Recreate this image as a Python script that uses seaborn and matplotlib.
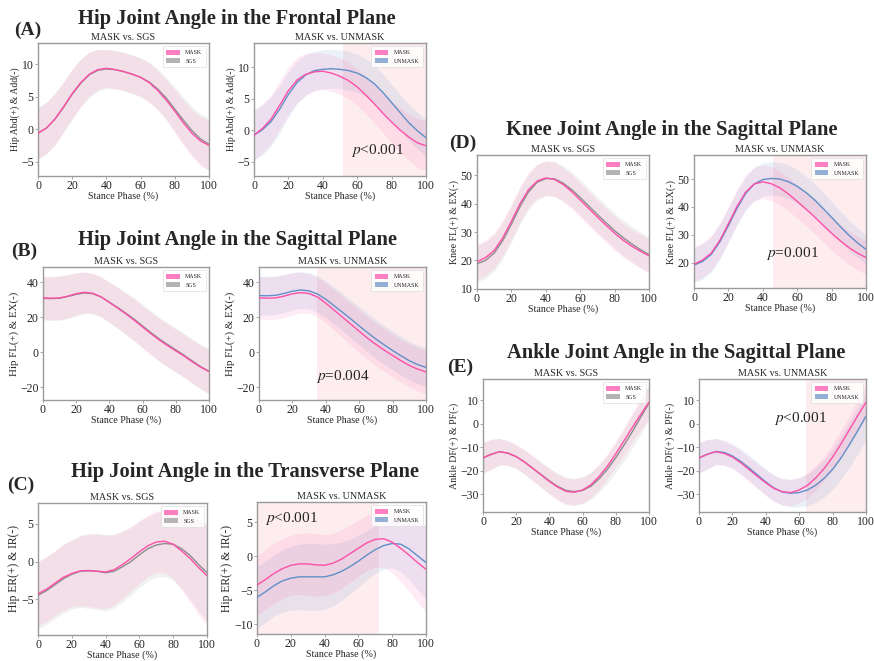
import numpy as np
import pandas as pd
import matplotlib
matplotlib.use("Agg")
import matplotlib.pyplot as plt
from matplotlib.patches import Patch
import seaborn as sns

# ---------------- data ----------------
stance = [0, 5, 10, 15, 20, 25, 30, 35, 40, 45, 50, 55, 60, 65, 70, 75, 80, 85, 90, 95, 100]
x_ticks = [0, 20, 40, 60, 80, 100]

# (A) Hip frontal
A_mask_l = [-0.6, 0.2, 1.6, 3.5, 5.5, 7.2, 8.5, 9.2, 9.4, 9.2, 8.9, 8.5, 8.0, 7.2, 6.0, 4.5, 2.8, 1.0, -0.6, -1.8, -2.5]
A_sgs = [-0.6, 0.2, 1.6, 3.4, 5.4, 7.1, 8.4, 9.1, 9.3, 9.2, 8.9, 8.5, 8.0, 7.3, 6.2, 4.8, 3.1, 1.4, -0.2, -1.5, -2.3]
A_mask_l_sd = [3.9, 3.9, 3.9, 3.8, 3.8, 3.6, 3.4, 3.1, 2.9, 2.9, 2.9, 2.9, 2.9, 3.0, 3.0, 3.1, 3.3, 3.5, 3.6, 3.8, 3.9]
A_sgs_sd = [4.0, 4.0, 4.0, 3.9, 3.9, 3.7, 3.5, 3.2, 3.0, 3.0, 3.0, 3.0, 3.0, 3.1, 3.1, 3.2, 3.4, 3.6, 3.7, 3.9, 4.0]
A_mask_r = [-0.8, 0.3, 1.8, 4.0, 6.3, 8.0, 8.9, 9.3, 9.4, 9.1, 8.6, 7.9, 6.9, 5.6, 4.2, 2.7, 1.3, 0.0, -1.1, -2.0, -2.5]
A_unmask = [-0.8, 0.1, 1.4, 3.4, 5.7, 7.6, 8.8, 9.5, 9.7, 9.8, 9.7, 9.5, 9.1, 8.4, 7.4, 6.0, 4.4, 2.8, 1.2, -0.1, -1.2]
A_mask_r_sd = [3.9, 3.9, 3.9, 3.8, 3.8, 3.6, 3.4, 3.1, 2.9, 2.9, 2.9, 2.9, 2.9, 3.0, 3.0, 3.1, 3.3, 3.5, 3.7, 3.9, 4.0]
A_unmask_sd = [4.0, 4.0, 3.9, 3.8, 3.6, 3.4, 3.2, 3.1, 3.1, 3.1, 3.1, 3.1, 3.0, 3.0, 3.0, 3.0, 2.9, 2.9, 2.9, 2.9, 2.9]

# (B) Hip sagittal
B_mask_l = [31.0, 30.8, 31.0, 32.0, 33.4, 34.2, 33.6, 31.6, 28.4, 25.2, 21.8, 18.2, 14.4, 10.6, 7.0, 3.8, 0.8, -2.2, -5.5, -8.5, -11.0]
B_sgs = [30.7, 30.6, 30.8, 31.8, 33.0, 33.8, 33.4, 31.5, 28.5, 25.5, 22.2, 18.8, 15.0, 11.2, 7.6, 4.4, 1.4, -1.7, -5.0, -8.2, -10.8]
B_mask_l_sd = [12.0, 12.2, 12.3, 12.2, 12.0, 11.6, 11.3, 11.2, 11.3, 11.5, 11.7, 11.9, 12.0, 12.1, 12.2, 12.2, 12.2, 12.2, 12.3, 12.4, 12.5]
B_sgs_sd = [12.3, 12.5, 12.6, 12.5, 12.3, 11.9, 11.6, 11.5, 11.6, 11.8, 12.0, 12.2, 12.3, 12.4, 12.5, 12.5, 12.5, 12.5, 12.6, 12.7, 12.8]
B_mask_r = [31.0, 30.8, 31.0, 32.0, 33.3, 34.0, 33.5, 31.5, 28.0, 24.0, 20.0, 16.0, 12.0, 8.0, 4.5, 1.2, -1.8, -4.8, -7.5, -9.6, -11.2]
B_unmask = [32.3, 32.2, 32.5, 33.5, 34.8, 35.5, 35.0, 33.2, 30.2, 26.5, 22.8, 19.0, 15.0, 11.2, 7.5, 4.2, 1.0, -2.0, -4.8, -7.0, -8.6]
B_mask_r_sd = [12.0, 12.2, 12.3, 12.2, 12.0, 11.6, 11.3, 11.2, 11.3, 11.5, 11.7, 11.9, 12.0, 12.1, 12.2, 12.2, 12.2, 12.2, 12.3, 12.4, 12.5]
B_unmask_sd = [11.0, 11.0, 10.9, 10.8, 10.6, 10.5, 10.4, 10.4, 10.5, 10.6, 10.7, 10.8, 10.9, 11.0, 11.0, 11.0, 11.0, 11.0, 11.0, 11.0, 11.0]

# (C) Hip transverse
C_mask_l = [-4.3, -3.7, -2.9, -2.1, -1.6, -1.25, -1.2, -1.3, -1.4, -1.1, -0.4, 0.4, 1.3, 2.1, 2.6, 2.7, 2.3, 1.4, 0.4, -0.8, -1.9]
C_sgs = [-4.5, -3.9, -3.1, -2.3, -1.7, -1.3, -1.25, -1.3, -1.5, -1.3, -0.7, 0.0, 0.9, 1.7, 2.2, 2.4, 2.3, 1.7, 0.8, -0.4, -1.5]
C_mask_l_sd = [4.3, 4.3, 4.3, 4.4, 4.4, 4.6, 4.8, 4.9, 4.9, 4.7, 4.5, 4.3, 4.2, 4.1, 4.1, 4.2, 4.6, 5.2, 5.8, 6.3, 6.6]
C_sgs_sd = [4.5, 4.5, 4.5, 4.6, 4.6, 4.8, 5.0, 5.1, 5.1, 4.9, 4.7, 4.5, 4.4, 4.3, 4.3, 4.4, 4.8, 5.3, 5.8, 6.2, 6.4]
C_mask_r = [-4.2, -3.4, -2.5, -1.8, -1.3, -1.1, -1.1, -1.25, -1.3, -1.0, -0.4, 0.4, 1.2, 2.0, 2.5, 2.6, 2.1, 1.2, 0.2, -0.9, -1.9]
C_unmask = [-6.0, -5.2, -4.3, -3.6, -3.2, -3.0, -3.0, -3.0, -3.0, -2.7, -2.2, -1.5, -0.7, 0.2, 1.0, 1.6, 1.9, 1.8, 1.1, 0.1, -0.9]
C_mask_r_sd = [4.4, 4.4, 4.4, 4.4, 4.4, 4.5, 4.6, 4.6, 4.5, 4.4, 4.3, 4.2, 4.1, 4.1, 4.1, 4.2, 4.5, 4.9, 5.3, 5.8, 6.3]
C_unmask_sd = [4.5, 4.5, 4.5, 4.6, 4.7, 4.8, 4.9, 4.9, 4.8, 4.6, 4.3, 4.0, 3.8, 3.6, 3.5, 3.5, 3.6, 4.0, 4.5, 5.0, 5.4]

# (D) Knee sagittal
D_mask_l = [19.5, 21.0, 23.5, 28.0, 33.8, 40.0, 45.0, 48.0, 49.1, 48.6, 46.8, 44.3, 41.3, 38.3, 35.3, 32.4, 29.6, 27.1, 25.0, 23.2, 21.6]
D_sgs = [18.8, 20.0, 22.6, 27.0, 32.8, 39.0, 44.2, 47.6, 48.9, 48.8, 47.3, 45.0, 42.2, 39.2, 36.2, 33.3, 30.5, 28.0, 25.8, 23.8, 22.0]
D_mask_l_sd = [6.2, 6.2, 6.2, 6.2, 6.2, 6.2, 6.1, 6.0, 6.0, 6.0, 6.0, 6.0, 6.0, 6.0, 6.0, 6.0, 6.0, 6.0, 6.0, 6.0, 6.0]
D_sgs_sd = [6.4, 6.4, 6.4, 6.4, 6.4, 6.4, 6.3, 6.2, 6.2, 6.2, 6.2, 6.2, 6.2, 6.2, 6.2, 6.2, 6.2, 6.2, 6.2, 6.2, 6.2]
D_mask_r = [19.5, 21.0, 23.5, 28.0, 34.0, 40.2, 45.3, 48.2, 49.0, 48.3, 46.8, 44.6, 42.0, 39.3, 36.5, 33.5, 30.6, 27.9, 25.5, 23.5, 21.9]
D_unmask = [19.2, 20.5, 23.0, 27.5, 33.3, 39.5, 44.8, 48.2, 49.8, 50.2, 50.0, 49.0, 47.4, 45.2, 42.6, 39.5, 36.3, 33.0, 29.9, 27.2, 24.8]
D_mask_r_sd = [6.2, 6.2, 6.2, 6.2, 6.2, 6.2, 6.1, 6.0, 6.0, 6.0, 6.0, 6.0, 6.0, 6.0, 6.0, 6.0, 6.0, 6.0, 6.0, 6.0, 6.0]
D_unmask_sd = [6.3, 6.3, 6.3, 6.3, 6.2, 6.1, 6.0, 6.0, 6.0, 6.0, 6.0, 6.0, 6.0, 5.9, 5.8, 5.7, 5.6, 5.5, 5.4, 5.3, 5.2]

# (E) Ankle sagittal
E_mask_l = [-14.5, -13.0, -11.9, -12.5, -14.0, -16.3, -19.0, -21.8, -24.6, -27.0, -28.8, -29.2, -28.2, -26.0, -22.4, -18.0, -12.8, -7.2, -1.5, 4.0, 9.2]
E_sgs = [-14.5, -13.0, -11.9, -12.5, -14.0, -16.3, -19.0, -21.6, -24.3, -26.7, -28.4, -28.9, -28.4, -26.6, -23.4, -19.3, -14.4, -9.0, -3.3, 2.8, 8.8]
E_mask_l_sd = [6.5, 6.3, 5.6, 5.2, 5.0, 5.1, 5.2, 5.3, 5.4, 5.5, 5.6, 5.6, 5.5, 5.4, 5.3, 5.3, 5.5, 5.9, 6.3, 6.7, 7.0]
E_sgs_sd = [6.6, 6.4, 5.7, 5.3, 5.1, 5.2, 5.3, 5.4, 5.5, 5.6, 5.7, 5.7, 5.7, 5.7, 5.8, 6.0, 6.3, 6.7, 7.0, 7.2, 7.3]
E_mask_r = [-14.5, -13.0, -11.9, -12.6, -14.2, -16.6, -19.5, -22.4, -25.2, -27.6, -29.0, -29.3, -28.2, -26.2, -23.0, -19.0, -14.2, -8.6, -2.6, 3.4, 9.2]
E_unmask = [-14.5, -13.0, -11.8, -12.2, -13.7, -16.0, -18.8, -21.8, -24.8, -27.4, -29.1, -29.6, -29.3, -28.2, -26.1, -23.2, -19.4, -14.6, -9.0, -3.0, 3.3]
E_mask_r_sd = [6.5, 6.3, 5.6, 5.2, 5.0, 5.1, 5.2, 5.3, 5.4, 5.5, 5.6, 5.6, 5.5, 5.4, 5.3, 5.3, 5.5, 5.9, 6.3, 6.7, 7.0]
E_unmask_sd = [6.5, 6.3, 5.5, 5.2, 5.2, 5.3, 5.4, 5.5, 5.6, 5.6, 5.7, 5.9, 6.2, 6.8, 7.4, 8.0, 8.6, 9.2, 9.6, 9.9, 10.0]

# panel texts
panel_letters = ["(A)", "(B)", "(C)", "(D)", "(E)"]
panel_titles = ["Hip Joint Angle in the Frontal Plane", "Hip Joint Angle in the Sagittal Plane",
                "Hip Joint Angle in the Transverse Plane", "Knee Joint Angle in the Sagittal Plane",
                "Ankle Joint Angle in the Sagittal Plane"]
y_labels = ["Hip Abd(+) & Add(-)", "Hip FL(+) & EX(-)", "Hip ER(+) & IR(-)",
            "Knee FL(+) & EX(-)", "Ankle DF(+) & PF(-)"]
p_texts = ["$p$<0.001", "$p$=0.004", "$p$<0.001", "$p$=0.001", "$p$<0.001"]
sig_start = [52, 35, 0, 46, 64]
sig_end = [100, 100, 72, 100, 100]

# ---------------- style ----------------
sns.set_style("white")
plt.rcParams["font.family"] = ["Liberation Serif", "DejaVu Serif"]
plt.rcParams["mathtext.fontset"] = "stix"

MASK_C = "#FF4FA7"
MASK_P = "#FF80C0"
SGS_C = "#8C8C8C"
SGS_P = "#B4B4B4"
UN_C = "#6090C8"
UN_P = "#93AFD6"
SPINE = "#9A9A9A"

fig = plt.figure(figsize=(8.74, 6.61), dpi=100)

W, H = 874, 661


def rect(x0, x1, y0, y1):
    return [x0 / W, 1 - y1 / H, (x1 - x0) / W, (y1 - y0) / H]


def draw(ax, m1, s1, m2, s2, c2, p2, name2, ylim, yticks, ylabel, ylsize=7.2,
         sig=None, ptext=None, ppos=None, pha="center"):
    df = pd.DataFrame({"x": stance, "MASK": m1, name2: m2})
    if sig is not None:
        ax.axvspan(sig[0], sig[1], color="#FBD9DC", alpha=0.45, lw=0, zorder=0)
    m1a, s1a = np.asarray(m1), np.asarray(s1)
    m2a, s2a = np.asarray(m2), np.asarray(s2)
    ax.fill_between(stance, m2a - s2a, m2a + s2a, color=c2, alpha=0.12, lw=0, zorder=1)
    ax.fill_between(stance, m1a - s1a, m1a + s1a, color=MASK_C, alpha=0.11, lw=0, zorder=1)
    sns.lineplot(data=df, x="x", y=name2, color=c2, lw=1.0, ax=ax, zorder=3)
    sns.lineplot(data=df, x="x", y="MASK", color=MASK_C, lw=1.0, ax=ax, zorder=4)
    ax.set_xlim(0, 100)
    ax.set_ylim(*ylim)
    ax.set_xticks(x_ticks)
    ax.set_yticks(yticks)
    ax.tick_params(labelsize=8.5, length=2.2, width=0.6, color=SPINE, pad=1.0, direction="out",
                   bottom=True, left=True)
    ax.set_xlabel("Stance Phase (%)", fontsize=7.2, labelpad=-0.5)
    ax.set_ylabel(ylabel, fontsize=ylsize, labelpad=1.0)
    ax.set_title("MASK vs. " + name2, fontsize=7.3, pad=2)
    for sp in ax.spines.values():
        sp.set_color(SPINE)
        sp.set_linewidth(1.0)
    handles = [Patch(facecolor=MASK_P, edgecolor="none", label="MASK"),
               Patch(facecolor=p2, edgecolor="none", label=name2)]
    leg = ax.legend(handles=handles, loc="upper right", fontsize=4.3, frameon=True,
                    handlelength=2.3, handleheight=0.9, borderpad=0.6, labelspacing=0.5,
                    handletextpad=0.9, borderaxespad=0.5, fancybox=False)
    leg.get_frame().set_edgecolor("#DDDDDD")
    leg.get_frame().set_linewidth(0.6)
    if ptext is not None:
        ax.text(ppos[0], ppos[1], ptext, fontsize=11, ha=pha, va="center", zorder=6)


# axes rectangles (pixels)
rects = {
    "A": (rect(38, 209, 43, 176), rect(254, 426, 43, 176)),
    "B": (rect(43, 209, 267, 400), rect(259, 426, 267, 400)),
    "C": (rect(38, 207, 503, 635), rect(257, 426, 502, 634)),
    "D": (rect(477, 649, 155, 289), rect(694, 866, 155, 288)),
    "E": (rect(483, 649, 379, 512), rect(699, 866, 379, 512)),
}

# A
axl = fig.add_axes(rects["A"][0]); axr = fig.add_axes(rects["A"][1])
draw(axl, A_mask_l, A_mask_l_sd, A_sgs, A_sgs_sd, SGS_C, SGS_P, "SGS", (-7.2, 13.3), [-5, 0, 5, 10], y_labels[0], ylsize=7.0)
draw(axr, A_mask_r, A_mask_r_sd, A_unmask, A_unmask_sd, UN_C, UN_P, "UNMASK", (-7.3, 13.9), [-5, 0, 5, 10], y_labels[0], ylsize=7.0,
     sig=(sig_start[0], sig_end[0]), ptext=p_texts[0], ppos=(72, -3.3))
# B
axl = fig.add_axes(rects["B"][0]); axr = fig.add_axes(rects["B"][1])
draw(axl, B_mask_l, B_mask_l_sd, B_sgs, B_sgs_sd, SGS_C, SGS_P, "SGS", (-27.2, 48.6), [-20, 0, 20, 40], y_labels[1], ylsize=7.8)
draw(axr, B_mask_r, B_mask_r_sd, B_unmask, B_unmask_sd, UN_C, UN_P, "UNMASK", (-27.2, 48.6), [-20, 0, 20, 40], y_labels[1], ylsize=7.8,
     sig=(sig_start[1], sig_end[1]), ptext=p_texts[1], ppos=(50, -14))
# C
axl = fig.add_axes(rects["C"][0]); axr = fig.add_axes(rects["C"][1])
draw(axl, C_mask_l, C_mask_l_sd, C_sgs, C_sgs_sd, SGS_C, SGS_P, "SGS", (-9.8, 7.8), [-5, 0, 5], y_labels[2], ylsize=8.4)
draw(axr, C_mask_r, C_mask_r_sd, C_unmask, C_unmask_sd, UN_C, UN_P, "UNMASK", (-11.4, 8.0), [-10, -5, 0, 5], y_labels[2], ylsize=8.4,
     sig=(sig_start[2], sig_end[2]), ptext=p_texts[2], ppos=(5, 5.6), pha="left")
# D
axl = fig.add_axes(rects["D"][0]); axr = fig.add_axes(rects["D"][1])
draw(axl, D_mask_l, D_mask_l_sd, D_sgs, D_sgs_sd, SGS_C, SGS_P, "SGS", (9.9, 57.2), [10, 20, 30, 40, 50], y_labels[3])
draw(axr, D_mask_r, D_mask_r_sd, D_unmask, D_unmask_sd, UN_C, UN_P, "UNMASK", (11.0, 58.6), [20, 30, 40, 50], y_labels[3],
     sig=(sig_start[3], sig_end[3]), ptext=p_texts[3], ppos=(57, 23.5))
# E
axl = fig.add_axes(rects["E"][0]); axr = fig.add_axes(rects["E"][1])
draw(axl, E_mask_l, E_mask_l_sd, E_sgs, E_sgs_sd, SGS_C, SGS_P, "SGS", (-37.6, 19.1), [-30, -20, -10, 0, 10], y_labels[4])
draw(axr, E_mask_r, E_mask_r_sd, E_unmask, E_unmask_sd, UN_C, UN_P, "UNMASK", (-37.6, 19.1), [-30, -20, -10, 0, 10], y_labels[4],
     sig=(sig_start[4], sig_end[4]), ptext=p_texts[4], ppos=(61, 2.2))

# panel titles and letters (pixel positions)
title_pos = [(237, 24), (238, 245), (245, 477), (672, 135), (676, 358)]
letter_pos = [(14, 35), (11, 256), (7, 490), (449, 148), (447, 372)]
for t, (tx, ty) in zip(panel_titles, title_pos):
    fig.text(tx / W, 1 - ty / H, t, fontsize=14.8, fontweight="bold", ha="center", va="baseline")
for l, (lx, ly) in zip(panel_letters, letter_pos):
    fig.text(lx / W, 1 - ly / H, l, fontsize=14, fontweight="bold", ha="left", va="baseline")

fig.savefig("out.png", dpi=100)
